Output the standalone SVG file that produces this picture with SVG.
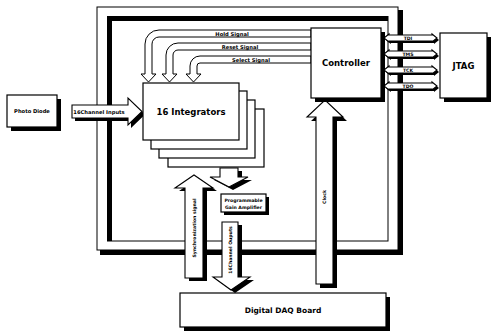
<svg xmlns="http://www.w3.org/2000/svg" width="492" height="333" viewBox="0 0 492 333">
  <style>
    .box { fill: #fff; stroke: #000; stroke-width: 1.2; }
    .shadow { fill: #000; }
    .arrow { fill: #fff; stroke: #000; stroke-width: 1.1; }
    .band { fill: #fff; stroke: #000; stroke-width: 1; }
    .t { font-family: "DejaVu Sans", "Liberation Sans", sans-serif; font-weight: bold; fill: #000; text-anchor: middle; dominant-baseline: central; }
    .big { font-size: 8.5px; }
    .mid { font-size: 7.5px; }
    .sm { font-size: 5.2px; }
    .xs { font-size: 4.6px; }
  </style>
  <rect width="492" height="333" fill="#fff"/>

  <!-- board frame: raised outer border with inset inner border -->
  <g id="board-frame">
    <rect x="100" y="10" width="303" height="245" class="shadow"/>
    <rect x="97" y="7" width="301" height="243" fill="#fff" stroke="#000" stroke-width="1"/>
    <rect x="107.5" y="16.5" width="280.5" height="224.5" fill="#fff" stroke="#000" stroke-width="1"/>
    <rect x="107" y="16" width="5" height="225" class="shadow"/>
    <rect x="107" y="16" width="281" height="5" class="shadow"/>
  </g>

  <!-- control signal buses from the controller to the integrators -->
  <g id="connectors">
    <path class="band" d="M311 30 L159 30 A14 14 0 0 0 145 44 L145 74 L141 74 L148.5 82 L156 74 L152 74 L152 44 A7 7 0 0 1 159 37 L311 37 Z"/>
    <path class="band" d="M311 43 L178 43 A12 12 0 0 0 166 55 L166 74 L162 74 L169.5 82 L177 74 L173 74 L173 55 A5 5 0 0 1 178 50 L311 50 Z"/>
    <path class="band" d="M311 56 L200 56 A10 10 0 0 0 190 66 L190 74 L186 74 L193.5 82 L201 74 L197 74 L197 66 A3 3 0 0 1 200 63 L311 63 Z"/>
    <text class="t sm" x="232" y="33.5">Hold Signal</text>
    <text class="t sm" x="240" y="46.5">Reset Signal</text>
    <text class="t sm" x="251" y="59.5">Select Signal</text>

    <!-- 16 channel inputs -->
    <path class="shadow" d="M75 108 L131 108 L131 101 L145 114.5 L131 128 L131 121 L75 121 Z"/>
    <path class="arrow" d="M72 105 L128 105 L128 98 L142 111.5 L128 125 L128 118 L72 118 Z"/>
    <text class="t sm" x="99" y="111.5">16Channel Inputs</text>

    <!-- integrators to amplifier -->
    <path class="shadow" d="M224 171 L242 171 L242 180 L252 180 L233 190 L214 180 L224 180 Z"/>
    <path class="arrow" d="M220 168 L238 168 L238 177 L248 177 L229 187 L210 177 L220 177 Z"/>

    <!-- synchronization signal -->
    <path class="shadow" d="M189 281 L189 191 L179 191 L198 178 L217 191 L207 191 L207 281 Z"/>
    <path class="arrow" d="M185 278 L185 188 L175 188 L194 175 L213 188 L203 188 L203 278 Z"/>
    <text class="t xs" transform="translate(194 228) rotate(-90)">Synchronization signal</text>

    <!-- 16 channel outputs -->
    <path class="shadow" d="M226 225 L242 225 L242 280 L254 280 L235 293 L217 280 L226 280 Z"/>
    <path class="arrow" d="M222 222 L238 222 L238 277 L250 277 L231 290 L213 277 L222 277 Z"/>
    <text class="t xs" transform="translate(230 250) rotate(-90)">16Channel Ouputs</text>

    <!-- clock -->
    <path class="shadow" d="M320 288 L320 121 L311 121 L329 104 L347 121 L337 121 L337 288 Z"/>
    <path class="arrow" d="M316 284 L316 117 L307 117 L325 100 L343 117 L333 117 L333 284 Z"/>
    <text class="t xs" transform="translate(324.5 197) rotate(-90)">Clock</text>

    <!-- JTAG lines -->
    <g id="jtag-lines">
      <path class="shadow" d="M386 40 L391 36 L391 37 L434 37 L434 36 L439 40 L434 44 L434 43 L391 43 L391 44 Z"/>
      <path class="arrow" d="M384 38 L389 34 L389 35 L432 35 L432 34 L437 38 L432 42 L432 41 L389 41 L389 42 Z"/>
      <text class="t xs" x="408" y="38">TDI</text>
      <path class="shadow" d="M386 56 L391 52 L391 53 L434 53 L434 52 L439 56 L434 60 L434 59 L391 59 L391 60 Z"/>
      <path class="arrow" d="M384 54 L389 50 L389 51 L432 51 L432 50 L437 54 L432 58 L432 57 L389 57 L389 58 Z"/>
      <text class="t xs" x="408" y="54">TMS</text>
      <path class="shadow" d="M386 72 L391 68 L391 69 L434 69 L434 68 L439 72 L434 76 L434 75 L391 75 L391 76 Z"/>
      <path class="arrow" d="M384 70 L389 66 L389 67 L432 67 L432 66 L437 70 L432 74 L432 73 L389 73 L389 74 Z"/>
      <text class="t xs" x="408" y="70">TCK</text>
      <path class="shadow" d="M386 88 L391 84 L391 85 L434 85 L434 84 L439 88 L434 92 L434 91 L391 91 L391 92 Z"/>
      <path class="arrow" d="M384 86 L389 82 L389 83 L432 83 L432 82 L437 86 L432 90 L432 89 L389 89 L389 90 Z"/>
      <text class="t xs" x="408" y="86">TDO</text>
    </g>
  </g>

  <g id="photo-diode">
    <rect x="11" y="99" width="50" height="32" class="shadow"/>
    <rect x="7" y="95" width="50" height="32" class="box"/>
    <text class="t sm" x="32" y="111">Photo Diode</text>
  </g>

  <g id="integrators">
    <rect x="168" y="109" width="96" height="58" class="box"/>
    <rect x="159" y="100" width="96" height="58" class="box"/>
    <rect x="151" y="91" width="96" height="58" class="box"/>
    <rect x="143" y="83" width="96" height="57" class="box"/>
    <text class="t big" x="191" y="112">16 Integrators</text>
  </g>

  <g id="controller">
    <rect x="315" y="32" width="70" height="70" class="shadow"/>
    <rect x="311" y="28" width="70" height="70" class="box"/>
    <text class="t big" x="346" y="63">Controller</text>
  </g>

  <g id="jtag">
    <rect x="444" y="37" width="47" height="65" class="shadow"/>
    <rect x="440" y="33" width="47" height="65" class="box"/>
    <text class="t big" x="463.5" y="65.5">JTAG</text>
  </g>

  <g id="amplifier">
    <rect x="224" y="197" width="45" height="18" class="shadow"/>
    <rect x="221" y="194" width="45" height="18" class="box"/>
    <text class="t xs" x="243.5" y="200">Programmable</text>
    <text class="t xs" x="243.5" y="207">Gain Amplifier</text>
  </g>

  <g id="daq-board">
    <rect x="184" y="297" width="206" height="34" class="shadow"/>
    <rect x="180" y="293" width="206" height="34" class="box"/>
    <text class="t mid" x="283" y="310">Digital DAQ Board</text>
  </g>
</svg>
